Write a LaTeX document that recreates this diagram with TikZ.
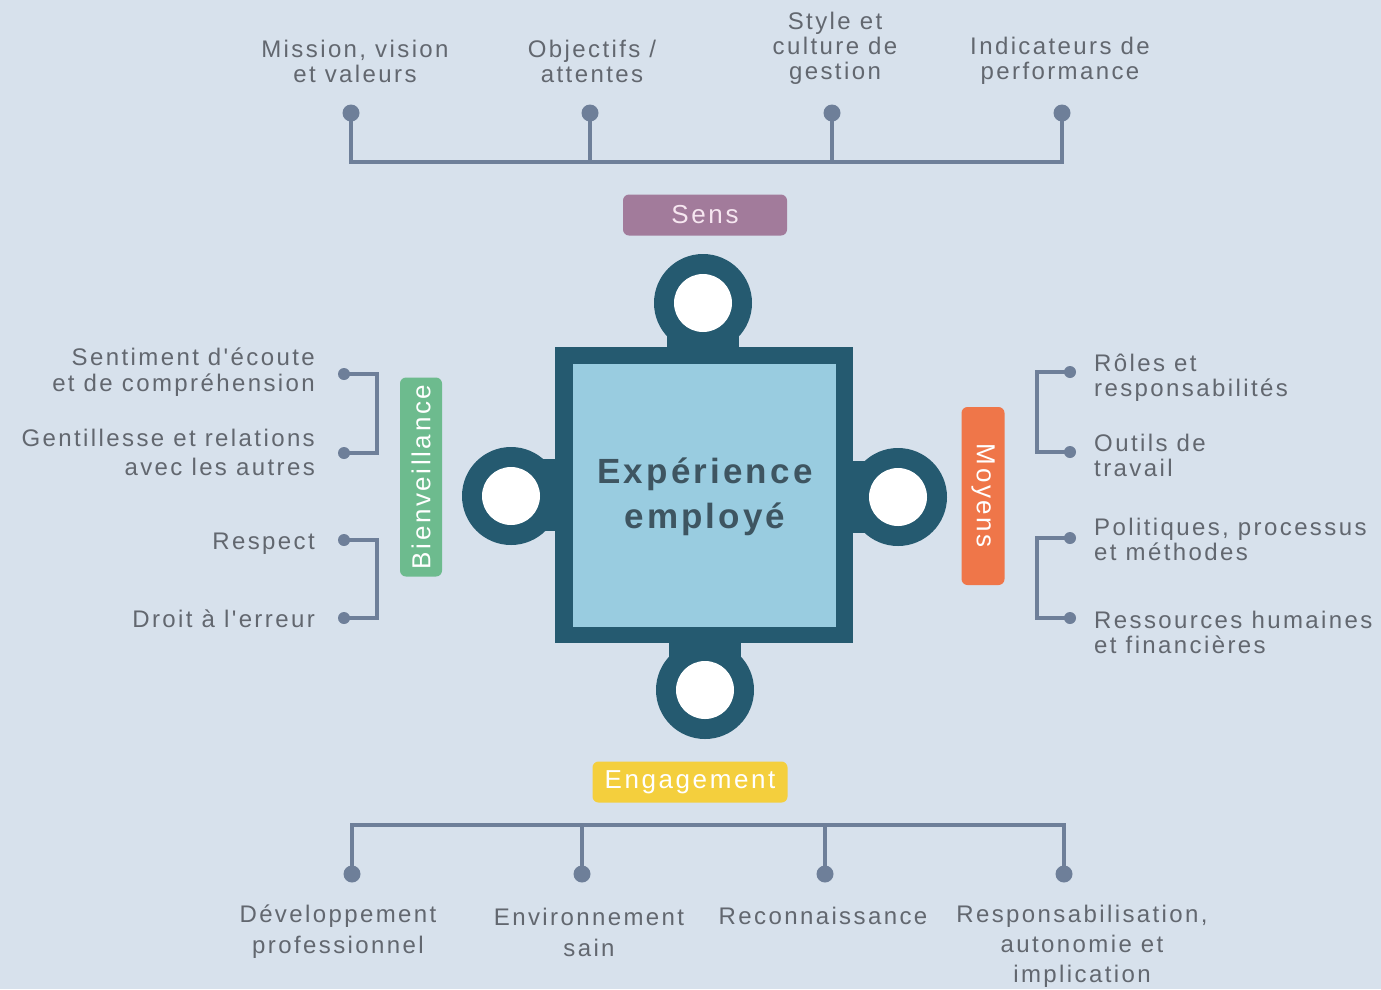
\documentclass[tikz,border=0pt]{standalone}
\usepackage{fontspec}
\setmainfont{Liberation Sans}
\newfontfamily\labfont[LetterSpace=10]{Liberation Sans}
\newfontfamily\titfont[LetterSpace=9]{Liberation Sans}
\definecolor{bgc}{HTML}{D7E1EC}
\definecolor{lnc}{HTML}{6E7F99}
\definecolor{txc}{HTML}{62676F}
\definecolor{darkc}{HTML}{255A70}
\definecolor{lightc}{HTML}{99CCE0}
\definecolor{sensc}{HTML}{A27B9B}
\definecolor{senstx}{HTML}{F6E6F0}
\definecolor{greenc}{HTML}{6DBB8E}
\definecolor{orangec}{HTML}{EF7649}
\definecolor{yellowc}{HTML}{F4CF3D}
\definecolor{centc}{HTML}{3E5561}
\begin{document}
\begin{tikzpicture}[x=1pt,y=-1pt,
  ln/.style={draw=lnc,line width=3.2pt},
  bigdot/.style={circle,fill=lnc,inner sep=0pt,minimum size=17pt},
  smalldot/.style={circle,fill=lnc,inner sep=0pt,minimum size=12pt},
  lab/.style={text=txc,inner sep=0pt,font=\labfont\fontsize{24}{25}\selectfont},
  tag/.style={rounded corners=6pt,inner sep=0pt,font=\labfont\fontsize{26}{28}\selectfont},
  knob/.style={fill=darkc},
  hole/.style={fill=white}
]
\fill[bgc] (0,0) rectangle (1381,989);
\useasboundingbox (0,0) rectangle (1381,989);

% ---------- top branch ----------
\node[bigdot] (t1) at (351,113) {};
\node[bigdot] (t2) at (590,113) {};
\node[bigdot] (t3) at (832,113) {};
\node[bigdot] (t4) at (1062,113) {};
\coordinate (tb1) at (351,162);
\coordinate (tb2) at (590,162);
\coordinate (tb3) at (832,162);
\coordinate (tb4) at (1062,162);
\draw[ln] (t1.center) -- (tb1) -- (tb4) -- (t4.center);
\draw[ln] (t2.center) -- (tb2);
\draw[ln] (t3.center) -- (tb3);

\node[lab,align=center] (mis) at (355,61) {Mission, vision\\et valeurs};
\node[lab,align=center] (obj) at (592,61) {Objectifs /\\attentes};
\node[lab,align=center] (sty) at (835,48) {Style et\\culture de\\gestion};
\node[lab,align=center] (ind) at (1060,61) {Indicateurs de\\performance};

% ---------- tags ----------
\node[tag,fill=sensc,text=senstx,minimum width=164pt,minimum height=41pt] (sens) at (705,215) {Sens};
\node[tag,fill=greenc,text=white,rotate=90,minimum width=199pt,minimum height=42pt] (bien) at (421,477) {Bienveillance};
\node[tag,fill=orangec,text=white,rotate=-90,minimum width=178pt,minimum height=43pt] (moy) at (983,496) {Moyens};
\node[tag,fill=yellowc,text=white,minimum width=195pt,minimum height=41pt] (eng) at (690,782) {Engagement};

% ---------- central puzzle piece ----------
\fill[knob] (703,303) circle[radius=49];
\fill[knob] (667,303) rectangle (739,350);
\fill[knob] (511,496) circle[radius=49];
\fill[knob] (511,459) rectangle (558,531);
\fill[knob] (898,497) circle[radius=49];
\fill[knob] (850,461) rectangle (898,533);
\fill[knob] (705,690) circle[radius=49];
\fill[knob] (669,640) rectangle (741,690);
\fill[darkc] (555,347) rectangle (853,643);
\fill[lightc] (573,364) rectangle (836,627);
\fill[hole] (703,303) circle[radius=29];
\fill[hole] (511,496) circle[radius=29];
\fill[hole] (898,497) circle[radius=29];
\fill[hole] (705,690) circle[radius=29];
\node[text=centc,align=center,inner sep=0pt,font=\titfont\bfseries\fontsize{35}{45}\selectfont] (exp) at (705,497) {Expérience\\employé};

% ---------- left brackets ----------
\node[smalldot] (l1) at (344,374) {};
\node[smalldot] (l2) at (344,453) {};
\node[smalldot] (l3) at (344,540) {};
\node[smalldot] (l4) at (344,618) {};
\coordinate (lb1) at (377,374);
\coordinate (lb2) at (377,453);
\coordinate (lb3) at (377,540);
\coordinate (lb4) at (377,618);
\draw[ln] (l1.center) -- (lb1) -- (lb2) -- (l2.center);
\draw[ln] (l3.center) -- (lb3) -- (lb4) -- (l4.center);

\node[lab,align=right,anchor=east,font=\labfont\fontsize{24}{26}\selectfont] (sent) at (315,372) {Sentiment d'écoute\\et de compréhension};
\node[lab,align=right,anchor=east,font=\labfont\fontsize{24}{29}\selectfont] (gent) at (315,452) {Gentillesse et relations\\avec les autres};
\node[lab,anchor=east] (resp) at (315,544) {Respect};
\node[lab,anchor=east] (droit) at (315,619) {Droit à l'erreur};

% ---------- right brackets ----------
\node[smalldot] (r1) at (1070,372) {};
\node[smalldot] (r2) at (1070,452) {};
\node[smalldot] (r3) at (1070,538) {};
\node[smalldot] (r4) at (1070,618) {};
\coordinate (rb1) at (1037,372);
\coordinate (rb2) at (1037,452);
\coordinate (rb3) at (1037,538);
\coordinate (rb4) at (1037,618);
\draw[ln] (r1.center) -- (rb1) -- (rb2) -- (r2.center);
\draw[ln] (r3.center) -- (rb3) -- (rb4) -- (r4.center);

\node[lab,align=left,anchor=west] (roles) at (1094,378) {Rôles et\\responsabilités};
\node[lab,align=left,anchor=west] (outil) at (1094,455) {Outils de\\travail};
\node[lab,align=left,anchor=west] (poli) at (1094,539) {Politiques, processus\\et méthodes};
\node[lab,align=left,anchor=west] (ress) at (1094,632) {Ressources humaines\\et financières};

% ---------- bottom branch ----------
\node[bigdot] (b1) at (352,874) {};
\node[bigdot] (b2) at (582,874) {};
\node[bigdot] (b3) at (825,874) {};
\node[bigdot] (b4) at (1064,874) {};
\coordinate (bb1) at (352,825);
\coordinate (bb2) at (582,825);
\coordinate (bb3) at (825,825);
\coordinate (bb4) at (1064,825);
\draw[ln] (b1.center) -- (bb1) -- (bb4) -- (b4.center);
\draw[ln] (b2.center) -- (bb2);
\draw[ln] (b3.center) -- (bb3);

\node[lab,align=center,font=\labfont\fontsize{24}{31}\selectfont] (dev) at (338,932) {Développement\\professionnel};
\node[lab,align=center,font=\labfont\fontsize{24}{31}\selectfont] (env) at (589,932) {Environnement\\sain};
\node[lab] (reco) at (823,916) {Reconnaissance};
\node[lab,align=center,font=\labfont\fontsize{24}{30}\selectfont] (respo) at (1082,946) {Responsabilisation,\\autonomie et\\implication};
\end{tikzpicture}
\end{document}
